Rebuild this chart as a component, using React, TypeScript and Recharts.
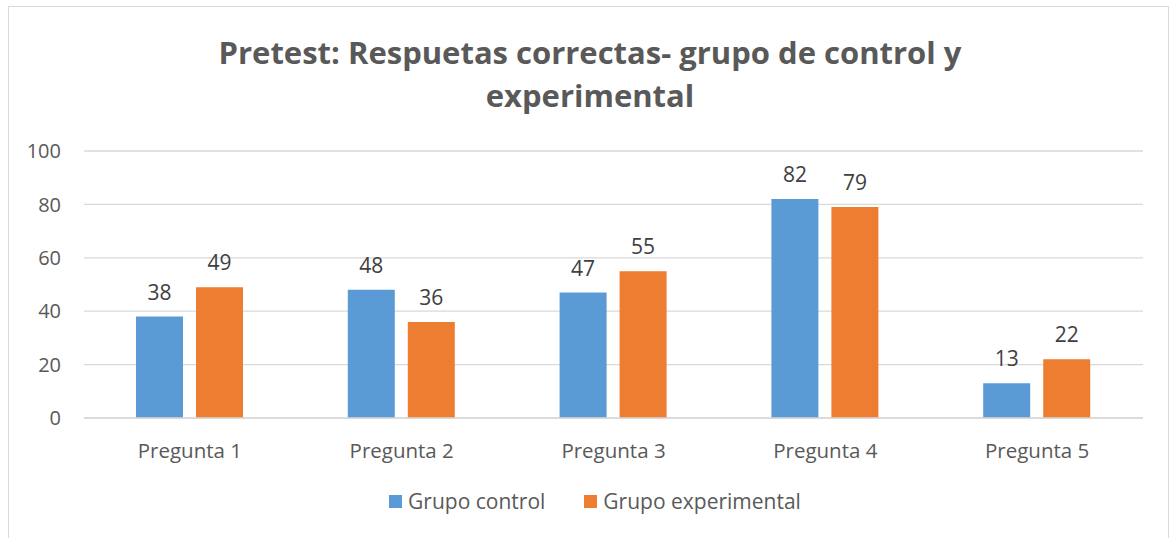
import { BarChart, Bar, XAxis, YAxis, CartesianGrid, LabelList } from "recharts";

// #region Sample data
const questions = ["Pregunta 1", "Pregunta 2", "Pregunta 3", "Pregunta 4", "Pregunta 5"];
const controlScores = [38, 48, 47, 82, 13];
const experimentalScores = [49, 36, 55, 79, 22];
const yTicks = [0, 20, 40, 60, 80, 100];
// #endregion

const data = questions.map((name, i) => ({
  name,
  control: controlScores[i],
  experimental: experimentalScores[i],
}));

const FONT = "'Open Sans', sans-serif";
const GRAY = "#595959";
const BLUE = "#5B9BD5";
const ORANGE = "#ED7D31";

// Legend drawn by hand to match the office-style swatches
const ChartLegend = () => (
  <div
    style={{
      position: "absolute",
      top: 487,
      left: 0,
      width: 1172,
      display: "flex",
      justifyContent: "center",
      gap: 39,
      fontFamily: FONT,
      fontSize: 21,
      color: GRAY,
      paddingLeft: 18,
      boxSizing: "border-box",
    }}
  >
    <div style={{ display: "flex", alignItems: "center", gap: 6 }}>
      <span style={{ width: 13, height: 13, background: BLUE, display: "inline-block" }} />
      Grupo control
    </div>
    <div style={{ display: "flex", alignItems: "center", gap: 6 }}>
      <span style={{ width: 13, height: 13, background: ORANGE, display: "inline-block" }} />
      Grupo experimental
    </div>
  </div>
);

const App = () => {
  return (
    <div style={{ position: "absolute", left: 0, top: 0, width: 1172, height: 538, background: "#fff", overflow: "hidden" }}>
      {/* frame */}
      <div
        style={{
          position: "absolute",
          left: 8,
          top: 6,
          width: 1161,
          height: 560,
          border: "1.5px solid #d9d9d9",
          boxSizing: "border-box",
        }}
      />
      <div
        style={{
          position: "absolute",
          top: 31,
          left: 0,
          width: 1172,
          textAlign: "center",
          fontFamily: FONT,
          fontWeight: 700,
          fontSize: 31,
          lineHeight: "43px",
          color: GRAY,
          paddingLeft: 8,
          boxSizing: "border-box",
        }}
      >
        Pretest: Respuetas correctas- grupo de control y
        <br />
        experimental
      </div>
      <div style={{ position: "absolute", left: 0, top: 0 }}>
        <BarChart
          width={1172}
          height={538}
          data={data}
          margin={{ top: 151, right: 29, left: 0, bottom: 80 }}
          barGap={13}
          barSize={47}
        >
          <CartesianGrid vertical={false} stroke="#d9d9d9" strokeWidth={1.3} />
          <XAxis
            dataKey="name"
            tickLine={false}
            axisLine={{ stroke: "#d9d9d9", strokeWidth: 1.3 }}
            tickSize={6}
            tickMargin={19}
            height={40}
            tick={{ fill: GRAY, fontSize: 20.5, fontFamily: FONT }}
          />
          <YAxis
            width={84}
            domain={[0, 100]}
            ticks={yTicks}
            tickLine={false}
            axisLine={false}
            tickSize={6}
            tickMargin={17}
            tick={{ fill: GRAY, fontSize: 20, fontFamily: FONT }}
          />
          <Bar dataKey="control" fill={BLUE} isAnimationActive={false}>
            <LabelList dataKey="control" position="top" offset={17} fill="#404040" fontSize={21} fontFamily={FONT} />
          </Bar>
          <Bar dataKey="experimental" fill={ORANGE} isAnimationActive={false}>
            <LabelList dataKey="experimental" position="top" offset={17} fill="#404040" fontSize={21} fontFamily={FONT} />
          </Bar>
        </BarChart>
      </div>
      <ChartLegend />
    </div>
  );
};

export default App;
